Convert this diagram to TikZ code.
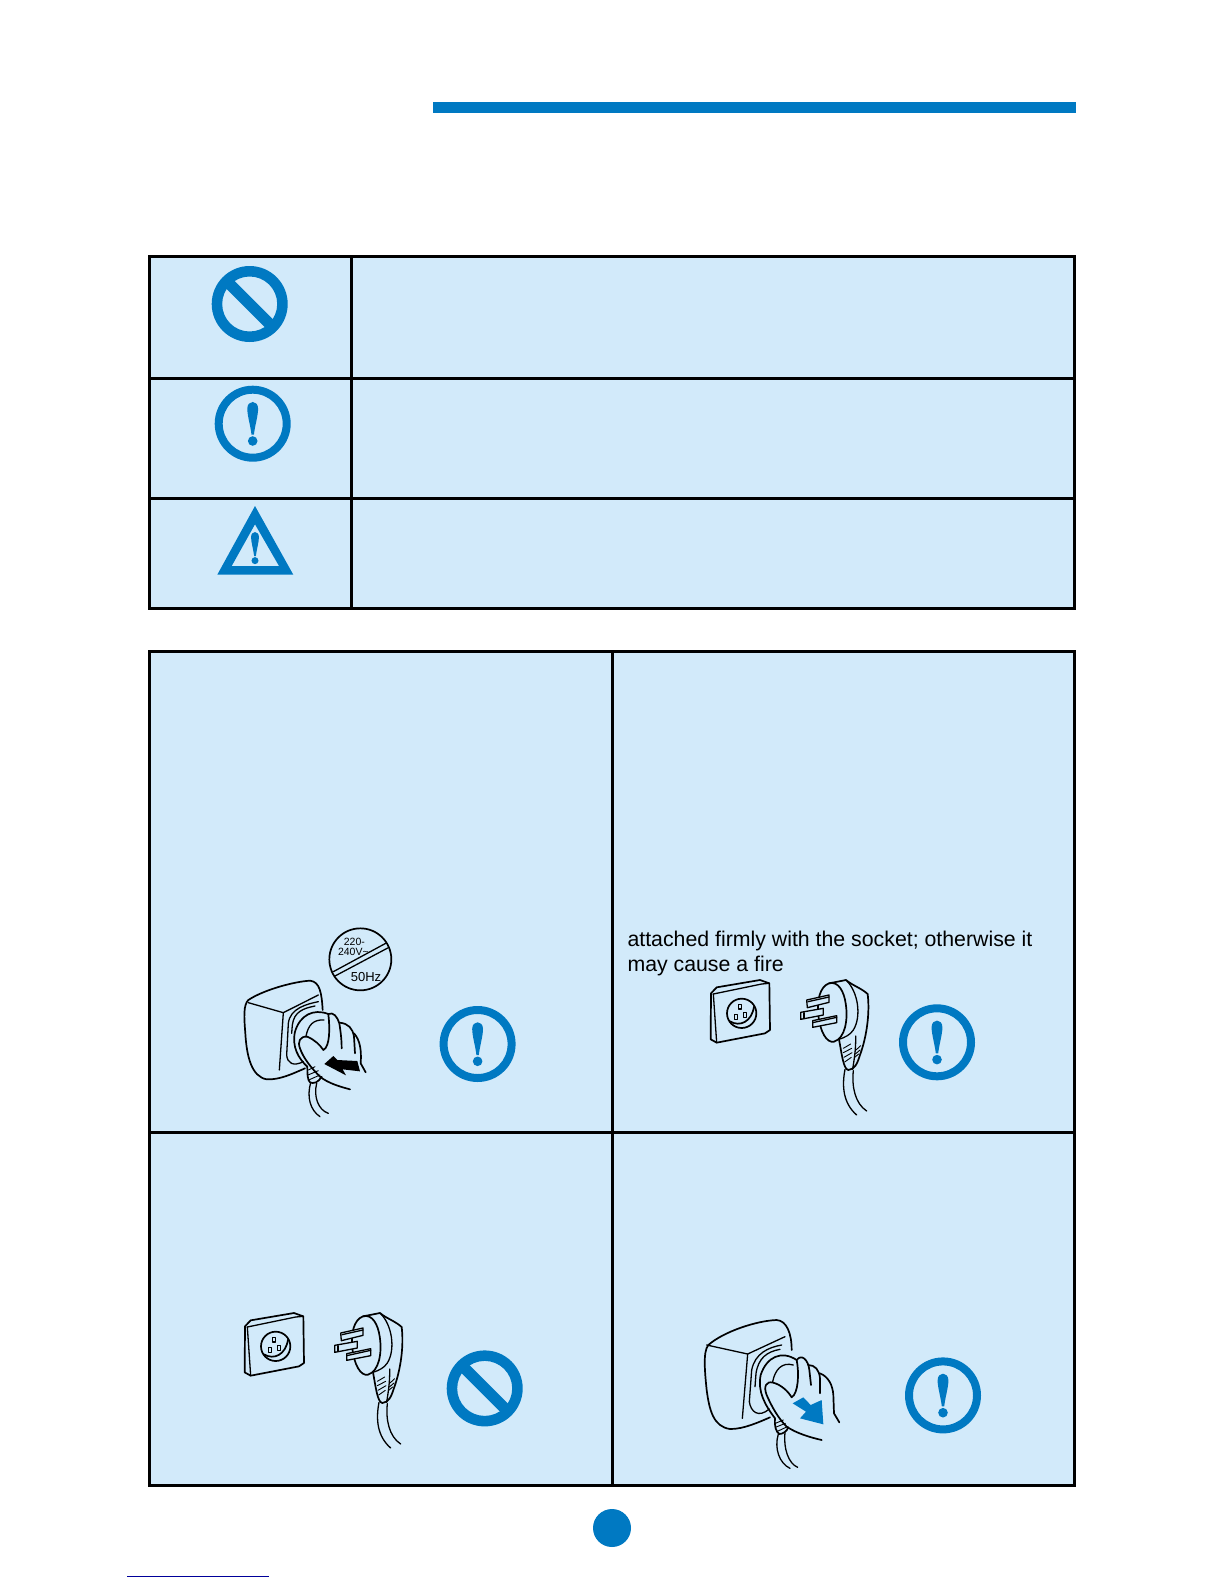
\documentclass[tikz,border=0pt]{standalone}
\usepackage{fontspec}
\setmainfont{Liberation Sans}
\definecolor{iconblue}{HTML}{0079C2}
\definecolor{panel}{HTML}{D2EAFA}
\definecolor{linkblue}{HTML}{00009A}
\tikzset{
  rule/.style={line width=3pt,draw=black,line cap=rect},
  ink/.style={line width=1.3pt,draw=black,line cap=round,line join=round},
  inkthin/.style={line width=.9pt,draw=black,line cap=round,line join=round},
  inkbold/.style={line width=1.7pt,draw=black,line cap=round,line join=round},
  zoomA/.style={shift={(#1)},scale=1/3},
  body/.style={font=\fontsize{21.3}{22}\selectfont,inner sep=0pt,anchor=base west},
}
\newcommand\noicon[2]{%
  \begin{scope}[shift={(#1,#2)}]
    \fill[iconblue,even odd rule] (0,0) circle (38) (0,0) circle (27.5);
    \fill[iconblue] (-25,-17) -- (-17,-25) -- (25,17) -- (17,25) -- cycle;
  \end{scope}}
\newcommand\bang[3]{%
  \begin{scope}[shift={(#1,#2)},scale=#3]
    \fill[iconblue] (-5.4,-15) .. controls (-5.4,-24) and (5.4,-24) .. (5.4,-15)
      .. controls (5.4,-8) and (2.2,2) .. (1.2,11) -- (-1.2,11)
      .. controls (-2.2,2) and (-5.4,-8) .. (-5.4,-15) -- cycle;
    \fill[iconblue] (0,17.3) circle (4.8);
  \end{scope}}
\newcommand\excl[2]{%
  \fill[iconblue,even odd rule] (#1,#2) circle (38) (#1,#2) circle (30);
  \bang{#1}{#2}{1}}
\newcommand\socket[2]{%
  \begin{scope}[shift={(#1,#2)},scale=1/3]
    \draw[inkbold] (93,130) -- (110,112) -- (240,90) -- (268,100) -- (270,240) -- (255,250) -- (110,278) -- (92,268) -- cycle;
    \draw[ink] (100,132) -- (245,102) -- (268,100);
    \draw[ink] (100,132) -- (110,278);
    \draw[inkbold] (185,190) circle (44);
    \draw[inkbold] (150,214) .. controls (180,232) and (215,215) .. (222,170);
    \draw[ink] (176,163) rectangle (185,177);
    \draw[ink] (164,194) rectangle (173,208);
    \draw[ink] (191,188) rectangle (200,202);
  \end{scope}}
\newcommand\plug[2]{%
  \begin{scope}[shift={(#1,#2)},scale=1/3]
    \draw[inkbold] (447,100) .. controls (420,110) and (410,150) .. (415,195)
      .. controls (420,245) and (440,280) .. (462,275)
      .. controls (495,265) and (505,210) .. (497,160)
      .. controls (492,125) and (475,92) .. (447,100);
    \draw[inkbold] (447,100) -- (498,90) .. controls (515,105) and (545,115) .. (563,132)
      .. controls (570,190) and (560,260) .. (540,315)
      .. controls (532,340) and (525,358) .. (505,360)
      .. controls (490,358) and (485,310) .. (477,268);
    \draw[ink] (498,90) .. controls (535,125) and (545,200) .. (520,240) .. controls (510,255) and (495,262) .. (477,268);
    \filldraw[ink,fill=panel] (447,135) -- (380,150) -- (382,173) -- (447,157) -- cycle;
    \draw[ink] (384,155) -- (447,141);
    \filldraw[ink,fill=panel] (430,175) -- (362,187) -- (362,208) -- (430,195) -- cycle;
    \draw[ink] (372,188) -- (372,205);
    \filldraw[ink,fill=panel] (470,197) -- (398,212) -- (398,232) -- (470,218) -- cycle;
    \draw[ink] (398,218) -- (470,202);
    \draw[ink] (527,258) .. controls (528,300) and (522,330) .. (518,358);
    \draw[inkthin] (490,295) -- (512,282) (490,308) -- (515,295) (492,322) -- (516,308) (494,336) -- (514,322);
    \draw[inkthin] (528,300) -- (542,287) (526,312) -- (540,300) (524,322) -- (536,312);
    \draw[ink] (495,358) .. controls (485,410) and (490,460) .. (530,495);
    \draw[ink] (520,362) .. controls (515,410) and (525,460) .. (560,483);
  \end{scope}}
\begin{document}
\begin{tikzpicture}[x=1pt,y=-1pt]
\useasboundingbox[fill=white] (0,0) rectangle (1224,1584);
% header bar
\fill[iconblue] (433,102) rectangle (1076,113);
% legend table
\fill[panel] (149,256) rectangle (1074,608.6);
\draw[rule] (149,256) rectangle (1074,608.6);
\draw[rule] (351,256) -- (351,608.6);
\draw[rule] (149,378) -- (1074,378);
\draw[rule] (149,498) -- (1074,498);
\noicon{249.7}{304}
\excl{252.7}{423.7}
\fill[iconblue,even odd rule] (255,506) -- (293.3,574.7) -- (217.3,574.7) -- cycle (255,524.3) -- (231.7,566) -- (279,566) -- cycle;
\bang{255}{548}{.73}
% lower table
\fill[panel] (149,651) rectangle (1074,1485);
\draw[rule] (149,651) rectangle (1074,1485);
\draw[rule] (612,651) -- (612,1485);
\draw[rule] (149,1132) -- (1074,1132);
% text
\node[body] (line1) at (627.3,946) {attached firmly with the socket; otherwise it};
\node[body] (line2) at (627.3,971.7) {may cause a fire};
% icons in cells
\excl{477.6}{1044}
\excl{937}{1042.3}
\noicon{484.7}{1388.4}
\excl{943}{1395.4}
% cell 1 drawing
\begin{scope}[zoomA={220,900}]
  \draw[inkbold] (421,178) circle (93);
  \draw[ink] (340,215) -- (497,130) (345,228) -- (505,143);
  \node[font=\fontsize{10.5}{10}\selectfont,inner sep=0pt] (v1) at (403,125) {220-};
  \node[font=\fontsize{10.5}{10}\selectfont,inner sep=0pt] (v2) at (400,155) {240V\char"7E};
  \node[font=\fontsize{13}{12}\selectfont,inner sep=0pt] (hz) at (438,231) {50Hz};
  \draw[inkbold] (308,330) .. controls (305,280) and (300,245) .. (270,242)
    .. controls (220,245) and (130,270) .. (85,300) .. controls (70,315) and (72,350) .. (76,400)
    .. controls (80,470) and (95,530) .. (140,538) .. controls (180,540) and (220,520) .. (255,505);
  \draw[ink] (85,308) -- (190,338) -- (295,285);
  \draw[ink] (190,338) -- (178,510);
  \draw[ink] (295,305) .. controls (260,312) and (210,325) .. (205,370) -- (200,465) .. controls (202,490) and (220,500) .. (250,485);
  \draw[ink] (285,318) .. controls (250,325) and (222,335) .. (217,375) -- (215,400);
  \draw[inkbold] (325,342) .. controls (280,325) and (240,345) .. (225,395) .. controls (215,440) and (235,475) .. (262,500);
  \draw[ink] (312,360) .. controls (280,358) and (265,375) .. (258,408);
  \draw[inkbold] (262,410) .. controls (240,408) and (232,425) .. (240,445) .. controls (250,475) and (275,505) .. (300,530) .. controls (325,550) and (360,560) .. (390,568);
  \draw[inkbold] (262,410) .. controls (285,420) and (300,435) .. (310,450) .. controls (330,440) and (330,385) .. (325,342);
  \draw[inkbold] (325,342) .. controls (340,335) and (352,350) .. (358,370) .. controls (362,395) and (365,420) .. (365,445);
  \draw[inkbold] (358,368) .. controls (385,370) and (398,385) .. (402,410) -- (405,460);
  \draw[inkbold] (402,400) .. controls (420,420) and (425,450) .. (422,490) -- (437,517);
  \fill[black] (313,492) -- (340,468) -- (352,480) -- (412,483) -- (420,514) -- (368,508) -- (378,526) -- cycle;
  \draw[inkbold] (262,500) .. controls (262,520) and (262,540) .. (270,547) .. controls (280,552) and (295,548) .. (305,530);
  \draw[inkthin] (265,510) -- (285,500) (264,525) -- (295,512) (266,540) -- (300,525);
  \draw[ink] (272,548) .. controls (260,590) and (270,630) .. (300,650);
  \draw[ink] (290,550) .. controls (280,590) and (295,630) .. (325,640);
\end{scope}
% cell 2 drawing
\socket{680}{950}
\plug{680}{950}
% cell 3 drawing
\socket{214}{1283}
\plug{214}{1283}
% cell 4 drawing
\begin{scope}[zoomA={680,1290}]
  \draw[inkbold] (335,180) .. controls (335,130) and (320,92) .. (290,90)
    .. controls (230,92) and (130,125) .. (85,165) .. controls (68,185) and (75,250) .. (80,300)
    .. controls (88,360) and (100,410) .. (150,417) .. controls (190,418) and (240,395) .. (270,382);
  \draw[ink] (80,165) -- (203,192) -- (315,140);
  \draw[ink] (203,192) -- (187,385);
  \draw[ink] (305,165) .. controls (265,172) and (225,190) .. (215,240) -- (208,335) .. controls (212,365) and (235,385) .. (268,357);
  \draw[ink] (300,178) .. controls (260,185) and (235,205) .. (228,250) -- (225,290);
  \draw[inkbold] (350,210) .. controls (305,180) and (260,200) .. (242,255) .. controls (232,305) and (255,345) .. (285,385);
  \draw[ink] (340,225) .. controls (305,215) and (285,240) .. (278,275);
  \draw[inkbold] (280,278) .. controls (258,272) and (250,290) .. (260,315) .. controls (275,350) and (295,385) .. (320,410) .. controls (350,430) and (390,442) .. (425,450);
  \draw[inkbold] (280,278) .. controls (305,285) and (325,305) .. (335,322) .. controls (355,310) and (358,250) .. (350,210);
  \draw[inkbold] (350,210) .. controls (365,190) and (385,210) .. (388,240) -- (393,285);
  \draw[inkbold] (385,225) .. controls (405,225) and (418,240) .. (420,265) -- (420,310);
  \draw[inkbold] (420,250) .. controls (445,260) and (458,285) .. (460,315) -- (462,370) -- (478,397);
  \fill[iconblue] (338,340) -- (370,322) -- (392,345) -- (425,330) -- (430,403) -- (360,385) -- (378,365) -- cycle;
  \draw[inkbold] (285,385) .. controls (283,410) and (288,425) .. (298,432) .. controls (308,432) and (320,425) .. (325,412);
  \draw[inkthin] (286,400) -- (310,390) (286,412) -- (316,400) (290,425) -- (322,410);
  \draw[ink] (295,432) .. controls (282,475) and (298,520) .. (330,535);
  \draw[ink] (315,428) .. controls (310,475) and (325,520) .. (353,532);
\end{scope}
% page number disc and link rule
\fill[iconblue] (612,1528) circle (19);
\draw[linkblue,line width=1pt] (127,1576) -- (268.6,1576);
\end{tikzpicture}
\end{document}
